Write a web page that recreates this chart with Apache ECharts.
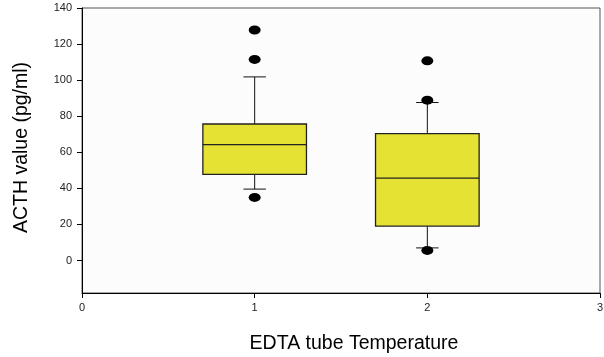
<!DOCTYPE html>
<html>
<head>
<meta charset="utf-8">
<script src="https://cdn.jsdelivr.net/npm/echarts@6/dist/echarts.min.js"></script>
<style>html,body{margin:0;padding:0;background:#fff}#c{width:604px;height:357px}</style>
</head>
<body>
<div id="c"></div>
<script>
// Data
const groups = [1, 2];
const whiskerLow = [39.6, 7.0];
const q1 = [47.8, 19.1];
const median = [64.3, 45.7];
const q3 = [75.7, 70.4];
const whiskerHigh = [101.8, 87.6];
const outliers1 = [127.8, 111.5, 35.0];
const outliers2 = [110.7, 88.9, 5.6];
const yTicks = [0, 20, 40, 60, 80, 100, 120, 140];
const xTicks = [0, 1, 2, 3];

const boxData = groups.map((g, i) => [g, whiskerLow[i], q1[i], median[i], q3[i], whiskerHigh[i]]);
const outlierData = []
  .concat(outliers1.map(v => [1, v]))
  .concat(outliers2.map(v => [2, v]));

const chart = echarts.init(document.getElementById('c'), null, {renderer: 'canvas'});
const font = 'Liberation Sans, Arial, sans-serif';

chart.setOption({
  animation: false,
  backgroundColor: '#ffffff',
  grid: {
    left: 82, right: 4, top: 8, bottom: 64,
    containLabel: false, outerBoundsMode: 'none',
    show: true, backgroundColor: '#fcfcfc', borderColor: '#555', borderWidth: 1
  },
  xAxis: {
    type: 'value', min: 0, max: 3, interval: 1,
    name: 'EDTA tube Temperature', nameLocation: 'middle', nameGap: 41,
    nameTextStyle: {fontFamily: font, fontSize: 19.5, color: '#000', padding: [0, 0, 0, 26]},
    axisLine: {onZero: false, lineStyle: {color: '#000', width: 1}},
    axisTick: {show: true, inside: false, length: 5, lineStyle: {color: '#000'}},
    axisLabel: {fontFamily: font, fontSize: 11, color: '#222', margin: 9, customValues: xTicks},
    splitLine: {show: false}
  },
  yAxis: {
    type: 'value', min: -18, max: 140,
    name: 'ACTH value (pg/ml)', nameLocation: 'middle', nameGap: 50, nameRotate: 90,
    nameTextStyle: {fontFamily: font, fontSize: 19.5, color: '#000', padding: [0, 0, 0, 6]},
    axisLine: {show: true, onZero: false, lineStyle: {color: '#000', width: 1}},
    axisTick: {show: true, length: 5, lineStyle: {color: '#000'}, customValues: yTicks},
    axisLabel: {fontFamily: font, fontSize: 11, color: '#222', margin: 10, customValues: yTicks},
    splitLine: {show: false}
  },
  series: [
    {
      type: 'custom',
      data: boxData,
      encode: {x: 0, y: [1, 2, 3, 4, 5]},
      renderItem: function (params, api) {
        const x = api.value(0);
        const half = api.size([0.3, 0])[0];
        const cap = api.size([0.065, 0])[0];
        const pLow = api.coord([x, api.value(1)]);
        const pQ1 = api.coord([x, api.value(2)]);
        const pMed = api.coord([x, api.value(3)]);
        const pQ3 = api.coord([x, api.value(4)]);
        const pHigh = api.coord([x, api.value(5)]);
        const cx = pMed[0];
        const line = {stroke: '#111', lineWidth: 1};
        return {
          type: 'group',
          children: [
            {type: 'line', shape: {x1: cx, y1: pLow[1], x2: cx, y2: pQ1[1]}, style: line},
            {type: 'line', shape: {x1: cx, y1: pQ3[1], x2: cx, y2: pHigh[1]}, style: line},
            {type: 'line', shape: {x1: cx - cap, y1: pLow[1], x2: cx + cap, y2: pLow[1]}, style: line},
            {type: 'line', shape: {x1: cx - cap, y1: pHigh[1], x2: cx + cap, y2: pHigh[1]}, style: line},
            {type: 'rect', shape: {x: cx - half, y: pQ3[1], width: 2 * half, height: pQ1[1] - pQ3[1]},
              style: {fill: '#e6e233', stroke: '#222', lineWidth: 1.3}},
            {type: 'line', shape: {x1: cx - half, y1: pMed[1], x2: cx + half, y2: pMed[1]}, style: {stroke: '#222', lineWidth: 1.3}}
          ]
        };
      },
      z: 2
    },
    {
      type: 'scatter',
      data: outlierData,
      symbol: 'circle',
      symbolSize: [12, 9],
      itemStyle: {color: '#000', opacity: 1},
      z: 3
    }
  ]
});
</script>
</body>
</html>
